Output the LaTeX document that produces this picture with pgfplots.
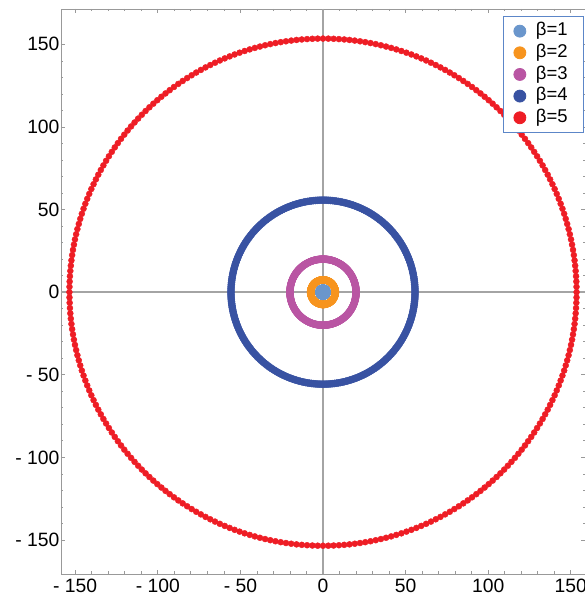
\documentclass[border=0pt]{standalone}
\usepackage{fontspec}
\setmainfont{Liberation Sans}
\usepackage{pgfplots}
\usepackage{pgfplotstable}
\pgfplotsset{compat=1.18}
\definecolor{cA}{HTML}{6A96CC}
\definecolor{cB}{HTML}{F7941E}
\definecolor{cC}{HTML}{B955A3}
\definecolor{cD}{HTML}{3852A2}
\definecolor{cE}{HTML}{EE1D25}
\definecolor{framec}{HTML}{999999}
\definecolor{axc}{HTML}{A4A4A4}
\definecolor{legc}{HTML}{5C86C8}
\pgfplotstableread{
a b1 b2 b3 b4 b5
0 2.4 7.45 20 55.7 153.5
1.2 2.4 7.45 20 55.7 153.5
2.4 2.4 7.45 20 55.7 153.5
3.6 2.4 7.45 20 55.7 153.5
4.8 2.4 7.45 20 55.7 153.5
6 2.4 7.45 20 55.7 153.5
7.2 2.4 7.45 20 55.7 153.5
8.4 2.4 7.45 20 55.7 153.5
9.6 2.4 7.45 20 55.7 153.5
10.8 2.4 7.45 20 55.7 153.5
12 2.4 7.45 20 55.7 153.5
13.2 2.4 7.45 20 55.7 153.5
14.4 2.4 7.45 20 55.7 153.5
15.6 2.4 7.45 20 55.7 153.5
16.8 2.4 7.45 20 55.7 153.5
18 2.4 7.45 20 55.7 153.5
19.2 2.4 7.45 20 55.7 153.5
20.4 2.4 7.45 20 55.7 153.5
21.6 2.4 7.45 20 55.7 153.5
22.8 2.4 7.45 20 55.7 153.5
24 2.4 7.45 20 55.7 153.5
25.2 2.4 7.45 20 55.7 153.5
26.4 2.4 7.45 20 55.7 153.5
27.6 2.4 7.45 20 55.7 153.5
28.8 2.4 7.45 20 55.7 153.5
30 2.4 7.45 20 55.7 153.5
31.2 2.4 7.45 20 55.7 153.5
32.4 2.4 7.45 20 55.7 153.5
33.6 2.4 7.45 20 55.7 153.5
34.8 2.4 7.45 20 55.7 153.5
36 2.4 7.45 20 55.7 153.5
37.2 2.4 7.45 20 55.7 153.5
38.4 2.4 7.45 20 55.7 153.5
39.6 2.4 7.45 20 55.7 153.5
40.8 2.4 7.45 20 55.7 153.5
42 2.4 7.45 20 55.7 153.5
43.2 2.4 7.45 20 55.7 153.5
44.4 2.4 7.45 20 55.7 153.5
45.6 2.4 7.45 20 55.7 153.5
46.8 2.4 7.45 20 55.7 153.5
48 2.4 7.45 20 55.7 153.5
49.2 2.4 7.45 20 55.7 153.5
50.4 2.4 7.45 20 55.7 153.5
51.6 2.4 7.45 20 55.7 153.5
52.8 2.4 7.45 20 55.7 153.5
54 2.4 7.45 20 55.7 153.5
55.2 2.4 7.45 20 55.7 153.5
56.4 2.4 7.45 20 55.7 153.5
57.6 2.4 7.45 20 55.7 153.5
58.8 2.4 7.45 20 55.7 153.5
60 2.4 7.45 20 55.7 153.5
61.2 2.4 7.45 20 55.7 153.5
62.4 2.4 7.45 20 55.7 153.5
63.6 2.4 7.45 20 55.7 153.5
64.8 2.4 7.45 20 55.7 153.5
66 2.4 7.45 20 55.7 153.5
67.2 2.4 7.45 20 55.7 153.5
68.4 2.4 7.45 20 55.7 153.5
69.6 2.4 7.45 20 55.7 153.5
70.8 2.4 7.45 20 55.7 153.5
72 2.4 7.45 20 55.7 153.5
73.2 2.4 7.45 20 55.7 153.5
74.4 2.4 7.45 20 55.7 153.5
75.6 2.4 7.45 20 55.7 153.5
76.8 2.4 7.45 20 55.7 153.5
78 2.4 7.45 20 55.7 153.5
79.2 2.4 7.45 20 55.7 153.5
80.4 2.4 7.45 20 55.7 153.5
81.6 2.4 7.45 20 55.7 153.5
82.8 2.4 7.45 20 55.7 153.5
84 2.4 7.45 20 55.7 153.5
85.2 2.4 7.45 20 55.7 153.5
86.4 2.4 7.45 20 55.7 153.5
87.6 2.4 7.45 20 55.7 153.5
88.8 2.4 7.45 20 55.7 153.5
90 2.4 7.45 20 55.7 153.5
91.2 2.4 7.45 20 55.7 153.5
92.4 2.4 7.45 20 55.7 153.5
93.6 2.4 7.45 20 55.7 153.5
94.8 2.4 7.45 20 55.7 153.5
96 2.4 7.45 20 55.7 153.5
97.2 2.4 7.45 20 55.7 153.5
98.4 2.4 7.45 20 55.7 153.5
99.6 2.4 7.45 20 55.7 153.5
100.8 2.4 7.45 20 55.7 153.5
102 2.4 7.45 20 55.7 153.5
103.2 2.4 7.45 20 55.7 153.5
104.4 2.4 7.45 20 55.7 153.5
105.6 2.4 7.45 20 55.7 153.5
106.8 2.4 7.45 20 55.7 153.5
108 2.4 7.45 20 55.7 153.5
109.2 2.4 7.45 20 55.7 153.5
110.4 2.4 7.45 20 55.7 153.5
111.6 2.4 7.45 20 55.7 153.5
112.8 2.4 7.45 20 55.7 153.5
114 2.4 7.45 20 55.7 153.5
115.2 2.4 7.45 20 55.7 153.5
116.4 2.4 7.45 20 55.7 153.5
117.6 2.4 7.45 20 55.7 153.5
118.8 2.4 7.45 20 55.7 153.5
120 2.4 7.45 20 55.7 153.5
121.2 2.4 7.45 20 55.7 153.5
122.4 2.4 7.45 20 55.7 153.5
123.6 2.4 7.45 20 55.7 153.5
124.8 2.4 7.45 20 55.7 153.5
126 2.4 7.45 20 55.7 153.5
127.2 2.4 7.45 20 55.7 153.5
128.4 2.4 7.45 20 55.7 153.5
129.6 2.4 7.45 20 55.7 153.5
130.8 2.4 7.45 20 55.7 153.5
132 2.4 7.45 20 55.7 153.5
133.2 2.4 7.45 20 55.7 153.5
134.4 2.4 7.45 20 55.7 153.5
135.6 2.4 7.45 20 55.7 153.5
136.8 2.4 7.45 20 55.7 153.5
138 2.4 7.45 20 55.7 153.5
139.2 2.4 7.45 20 55.7 153.5
140.4 2.4 7.45 20 55.7 153.5
141.6 2.4 7.45 20 55.7 153.5
142.8 2.4 7.45 20 55.7 153.5
144 2.4 7.45 20 55.7 153.5
145.2 2.4 7.45 20 55.7 153.5
146.4 2.4 7.45 20 55.7 153.5
147.6 2.4 7.45 20 55.7 153.5
148.8 2.4 7.45 20 55.7 153.5
150 2.4 7.45 20 55.7 153.5
151.2 2.4 7.45 20 55.7 153.5
152.4 2.4 7.45 20 55.7 153.5
153.6 2.4 7.45 20 55.7 153.5
154.8 2.4 7.45 20 55.7 153.5
156 2.4 7.45 20 55.7 153.5
157.2 2.4 7.45 20 55.7 153.5
158.4 2.4 7.45 20 55.7 153.5
159.6 2.4 7.45 20 55.7 153.5
160.8 2.4 7.45 20 55.7 153.5
162 2.4 7.45 20 55.7 153.5
163.2 2.4 7.45 20 55.7 153.5
164.4 2.4 7.45 20 55.7 153.5
165.6 2.4 7.45 20 55.7 153.5
166.8 2.4 7.45 20 55.7 153.5
168 2.4 7.45 20 55.7 153.5
169.2 2.4 7.45 20 55.7 153.5
170.4 2.4 7.45 20 55.7 153.5
171.6 2.4 7.45 20 55.7 153.5
172.8 2.4 7.45 20 55.7 153.5
174 2.4 7.45 20 55.7 153.5
175.2 2.4 7.45 20 55.7 153.5
176.4 2.4 7.45 20 55.7 153.5
177.6 2.4 7.45 20 55.7 153.5
178.8 2.4 7.45 20 55.7 153.5
180 2.4 7.45 20 55.7 153.5
181.2 2.4 7.45 20 55.7 153.5
182.4 2.4 7.45 20 55.7 153.5
183.6 2.4 7.45 20 55.7 153.5
184.8 2.4 7.45 20 55.7 153.5
186 2.4 7.45 20 55.7 153.5
187.2 2.4 7.45 20 55.7 153.5
188.4 2.4 7.45 20 55.7 153.5
189.6 2.4 7.45 20 55.7 153.5
190.8 2.4 7.45 20 55.7 153.5
192 2.4 7.45 20 55.7 153.5
193.2 2.4 7.45 20 55.7 153.5
194.4 2.4 7.45 20 55.7 153.5
195.6 2.4 7.45 20 55.7 153.5
196.8 2.4 7.45 20 55.7 153.5
198 2.4 7.45 20 55.7 153.5
199.2 2.4 7.45 20 55.7 153.5
200.4 2.4 7.45 20 55.7 153.5
201.6 2.4 7.45 20 55.7 153.5
202.8 2.4 7.45 20 55.7 153.5
204 2.4 7.45 20 55.7 153.5
205.2 2.4 7.45 20 55.7 153.5
206.4 2.4 7.45 20 55.7 153.5
207.6 2.4 7.45 20 55.7 153.5
208.8 2.4 7.45 20 55.7 153.5
210 2.4 7.45 20 55.7 153.5
211.2 2.4 7.45 20 55.7 153.5
212.4 2.4 7.45 20 55.7 153.5
213.6 2.4 7.45 20 55.7 153.5
214.8 2.4 7.45 20 55.7 153.5
216 2.4 7.45 20 55.7 153.5
217.2 2.4 7.45 20 55.7 153.5
218.4 2.4 7.45 20 55.7 153.5
219.6 2.4 7.45 20 55.7 153.5
220.8 2.4 7.45 20 55.7 153.5
222 2.4 7.45 20 55.7 153.5
223.2 2.4 7.45 20 55.7 153.5
224.4 2.4 7.45 20 55.7 153.5
225.6 2.4 7.45 20 55.7 153.5
226.8 2.4 7.45 20 55.7 153.5
228 2.4 7.45 20 55.7 153.5
229.2 2.4 7.45 20 55.7 153.5
230.4 2.4 7.45 20 55.7 153.5
231.6 2.4 7.45 20 55.7 153.5
232.8 2.4 7.45 20 55.7 153.5
234 2.4 7.45 20 55.7 153.5
235.2 2.4 7.45 20 55.7 153.5
236.4 2.4 7.45 20 55.7 153.5
237.6 2.4 7.45 20 55.7 153.5
238.8 2.4 7.45 20 55.7 153.5
240 2.4 7.45 20 55.7 153.5
241.2 2.4 7.45 20 55.7 153.5
242.4 2.4 7.45 20 55.7 153.5
243.6 2.4 7.45 20 55.7 153.5
244.8 2.4 7.45 20 55.7 153.5
246 2.4 7.45 20 55.7 153.5
247.2 2.4 7.45 20 55.7 153.5
248.4 2.4 7.45 20 55.7 153.5
249.6 2.4 7.45 20 55.7 153.5
250.8 2.4 7.45 20 55.7 153.5
252 2.4 7.45 20 55.7 153.5
253.2 2.4 7.45 20 55.7 153.5
254.4 2.4 7.45 20 55.7 153.5
255.6 2.4 7.45 20 55.7 153.5
256.8 2.4 7.45 20 55.7 153.5
258 2.4 7.45 20 55.7 153.5
259.2 2.4 7.45 20 55.7 153.5
260.4 2.4 7.45 20 55.7 153.5
261.6 2.4 7.45 20 55.7 153.5
262.8 2.4 7.45 20 55.7 153.5
264 2.4 7.45 20 55.7 153.5
265.2 2.4 7.45 20 55.7 153.5
266.4 2.4 7.45 20 55.7 153.5
267.6 2.4 7.45 20 55.7 153.5
268.8 2.4 7.45 20 55.7 153.5
270 2.4 7.45 20 55.7 153.5
271.2 2.4 7.45 20 55.7 153.5
272.4 2.4 7.45 20 55.7 153.5
273.6 2.4 7.45 20 55.7 153.5
274.8 2.4 7.45 20 55.7 153.5
276 2.4 7.45 20 55.7 153.5
277.2 2.4 7.45 20 55.7 153.5
278.4 2.4 7.45 20 55.7 153.5
279.6 2.4 7.45 20 55.7 153.5
280.8 2.4 7.45 20 55.7 153.5
282 2.4 7.45 20 55.7 153.5
283.2 2.4 7.45 20 55.7 153.5
284.4 2.4 7.45 20 55.7 153.5
285.6 2.4 7.45 20 55.7 153.5
286.8 2.4 7.45 20 55.7 153.5
288 2.4 7.45 20 55.7 153.5
289.2 2.4 7.45 20 55.7 153.5
290.4 2.4 7.45 20 55.7 153.5
291.6 2.4 7.45 20 55.7 153.5
292.8 2.4 7.45 20 55.7 153.5
294 2.4 7.45 20 55.7 153.5
295.2 2.4 7.45 20 55.7 153.5
296.4 2.4 7.45 20 55.7 153.5
297.6 2.4 7.45 20 55.7 153.5
298.8 2.4 7.45 20 55.7 153.5
300 2.4 7.45 20 55.7 153.5
301.2 2.4 7.45 20 55.7 153.5
302.4 2.4 7.45 20 55.7 153.5
303.6 2.4 7.45 20 55.7 153.5
304.8 2.4 7.45 20 55.7 153.5
306 2.4 7.45 20 55.7 153.5
307.2 2.4 7.45 20 55.7 153.5
308.4 2.4 7.45 20 55.7 153.5
309.6 2.4 7.45 20 55.7 153.5
310.8 2.4 7.45 20 55.7 153.5
312 2.4 7.45 20 55.7 153.5
313.2 2.4 7.45 20 55.7 153.5
314.4 2.4 7.45 20 55.7 153.5
315.6 2.4 7.45 20 55.7 153.5
316.8 2.4 7.45 20 55.7 153.5
318 2.4 7.45 20 55.7 153.5
319.2 2.4 7.45 20 55.7 153.5
320.4 2.4 7.45 20 55.7 153.5
321.6 2.4 7.45 20 55.7 153.5
322.8 2.4 7.45 20 55.7 153.5
324 2.4 7.45 20 55.7 153.5
325.2 2.4 7.45 20 55.7 153.5
326.4 2.4 7.45 20 55.7 153.5
327.6 2.4 7.45 20 55.7 153.5
328.8 2.4 7.45 20 55.7 153.5
330 2.4 7.45 20 55.7 153.5
331.2 2.4 7.45 20 55.7 153.5
332.4 2.4 7.45 20 55.7 153.5
333.6 2.4 7.45 20 55.7 153.5
334.8 2.4 7.45 20 55.7 153.5
336 2.4 7.45 20 55.7 153.5
337.2 2.4 7.45 20 55.7 153.5
338.4 2.4 7.45 20 55.7 153.5
339.6 2.4 7.45 20 55.7 153.5
340.8 2.4 7.45 20 55.7 153.5
342 2.4 7.45 20 55.7 153.5
343.2 2.4 7.45 20 55.7 153.5
344.4 2.4 7.45 20 55.7 153.5
345.6 2.4 7.45 20 55.7 153.5
346.8 2.4 7.45 20 55.7 153.5
348 2.4 7.45 20 55.7 153.5
349.2 2.4 7.45 20 55.7 153.5
350.4 2.4 7.45 20 55.7 153.5
351.6 2.4 7.45 20 55.7 153.5
352.8 2.4 7.45 20 55.7 153.5
354 2.4 7.45 20 55.7 153.5
355.2 2.4 7.45 20 55.7 153.5
356.4 2.4 7.45 20 55.7 153.5
357.6 2.4 7.45 20 55.7 153.5
358.8 2.4 7.45 20 55.7 153.5
}\rings
\begin{document}
\begin{tikzpicture}
\begin{axis}[
  scale only axis, width=524pt, height=565pt,
  xmin=-158.6, xmax=158.6, ymin=-170.6, ymax=171.4,
  axis line style={framec, line width=0.8pt},
  xtick={-150,-100,-50,0,50,100,150},
  ytick={-150,-100,-50,0,50,100,150},
  xticklabels={- 150,- 100,- 50,0,50,100,150},
  yticklabels={- 150,- 100,- 50,0,50,100,150},
  minor tick num=4,
  major tick length=4pt, minor tick length=2.5pt,
  tick style={framec, line width=0.7pt},
  tick label style={font=\fontsize{19.3}{22}\selectfont, text=black},
  xticklabel style={yshift=-1.5pt},
  yticklabel style={xshift=2pt},
  legend cell align=left,
  legend image code/.code={\path (0pt,0pt); \draw[#1, mark size=6pt] plot coordinates {(10pt,0pt)};},
  legend style={at={(1,1)}, anchor=north east, xshift=-1pt, yshift=-7pt,
    draw=legc, line width=0.8pt, font=\fontsize{18.5}{21}\selectfont,
    inner xsep=6pt, inner ysep=4.5pt, row sep=1.15pt,
    nodes={inner xsep=10pt, inner ysep=1pt, text height=14pt, text depth=4.5pt, anchor=west}},
]
\addplot[only marks, mark=*, mark size=3.6pt, color=cA, data cs=polar] table[x=a, y=b1] {\rings};
\addlegendentry{β=1}
\addplot[only marks, mark=*, mark size=3.6pt, color=cB, data cs=polar] table[x=a, y=b2] {\rings};
\addlegendentry{β=2}
\addplot[only marks, mark=*, mark size=3.6pt, color=cC, data cs=polar] table[x=a, y=b3] {\rings};
\addlegendentry{β=3}
\addplot[only marks, mark=*, mark size=3.6pt, color=cD, data cs=polar] table[x=a, y=b4] {\rings};
\addlegendentry{β=4}
\addplot[only marks, mark=*, mark size=3pt, color=cE, data cs=polar] table[x=a, y=b5] {\rings};
\addlegendentry{β=5}
\draw[axc, line width=1.4pt] (axis cs:0,-170.6) -- (axis cs:0,171.4);
\draw[axc, line width=1.4pt] (axis cs:-158.6,0) -- (axis cs:158.6,0);
\end{axis}
\pgfresetboundingbox
\path[use as bounding box] (-61pt,-29pt) rectangle (524pt,574pt);
\end{tikzpicture}
\end{document}
